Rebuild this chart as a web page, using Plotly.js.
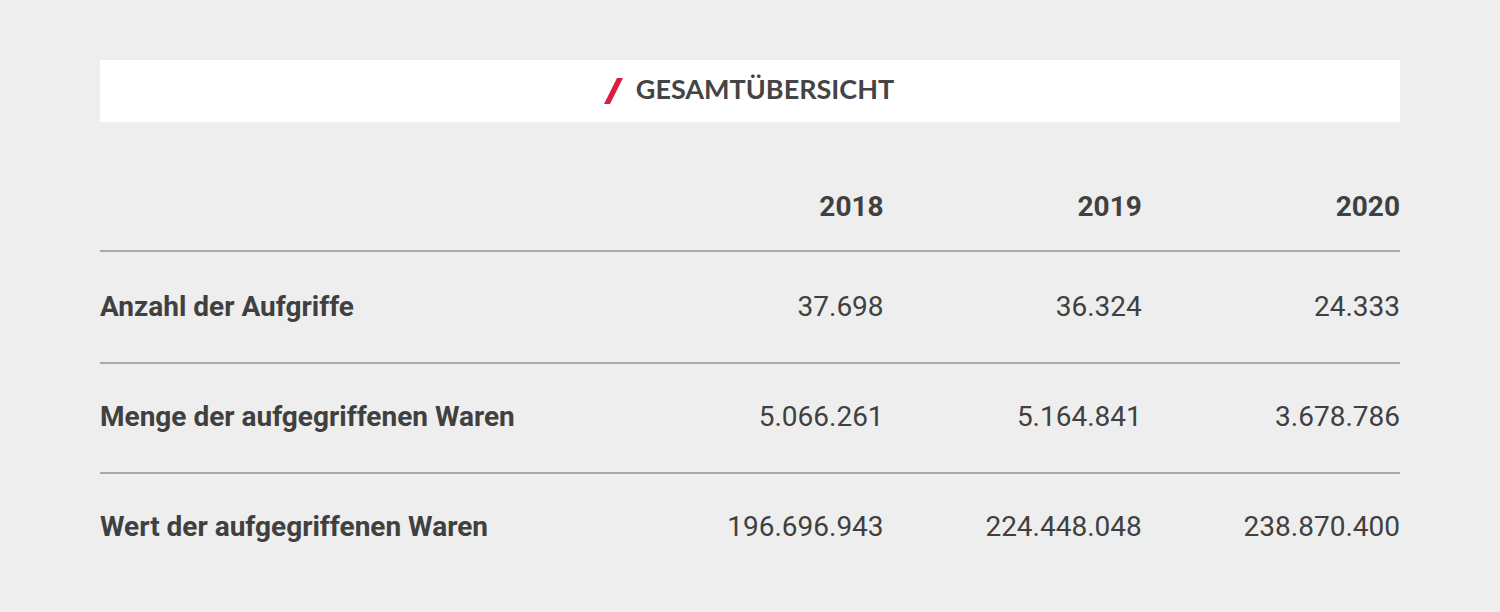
<!DOCTYPE html>
<html>
<head>
<meta charset="utf-8">
<script src="https://cdn.plot.ly/plotly-3.0.1.min.js"></script>
<style>
html,body{margin:0;padding:0;background:#eeeeee;}
#chart{width:1500px;height:612px;}
.scrollbar-kit{display:none;}
</style>
</head>
<body>
<div id="chart"></div>
<script>
// ---- data ----
const years = ["2018", "2019", "2020"];
const rowLabels = ["Anzahl der Aufgriffe", "Menge der aufgegriffenen Waren", "Wert der aufgegriffenen Waren"];
const values2018 = ["37.698", "5.066.261", "196.696.943"];
const values2019 = ["36.324", "5.164.841", "224.448.048"];
const values2020 = ["24.333", "3.678.786", "238.870.400"];
const chartTitle = "GESAMTÜBERSICHT";

// ---- layout helpers ----
const W = 1500, H = 612;
const px = v => v / W;
const py = v => 1 - v / H;
const textColor = "#404040";
const bg = "#eeeeee";

const table = {
  type: "table",
  domain: { x: [px(92), px(1408)], y: [0, py(187)] },
  columnwidth: [541, 258, 258, 258],
  header: {
    values: [""].concat(years),
    align: ["left", "right", "right", "right"],
    height: 100,
    fill: { color: "rgba(0,0,0,0)" },
    line: { width: 0, color: "rgba(0,0,0,0)" },
    font: { family: "Roboto", size: 28, color: textColor, weight: "bold" }
  },
  cells: {
    values: [rowLabels, values2018, values2019, values2020],
    align: ["left", "right", "right", "right"],
    height: 110,
    fill: { color: "rgba(0,0,0,0)" },
    line: { width: 0, color: "rgba(0,0,0,0)" },
    font: { family: "Roboto", size: 28, color: textColor,
            weight: ["bold", "normal", "normal", "normal"] }
  }
};

const ruleYs = [251, 363, 473];
const slashPath = "M " + px(604) + "," + py(104) + " L " + px(610) + "," + py(104) +
                  " L " + px(623) + "," + py(78) + " L " + px(617) + "," + py(78) + " Z";
const shapes = [
  { type: "rect", xref: "paper", yref: "paper", x0: px(100), x1: px(1400), y0: py(122), y1: py(60),
    fillcolor: "#ffffff", line: { width: 0 }, layer: "below" },
  { type: "path", xref: "paper", yref: "paper", path: slashPath,
    fillcolor: "#d91f3d", line: { width: 0 }, layer: "above" }
].concat(ruleYs.map(y => ({
  type: "line", xref: "paper", yref: "paper", x0: px(100), x1: px(1400), y0: py(y), y1: py(y),
  line: { color: "#aaaaaa", width: 2 }, layer: "above"
})));

const layout = {
  width: W, height: H,
  margin: { l: 0, r: 0, t: 0, b: 0 },
  paper_bgcolor: bg,
  plot_bgcolor: bg,
  title: {
    text: chartTitle,
    x: px(765), xanchor: "center", xref: "container",
    y: py(90), yanchor: "middle", yref: "container",
    font: { family: "Lato", size: 27, color: "#444444", weight: "bold" }
  },
  shapes: shapes,
  showlegend: false
};

Plotly.newPlot("chart", [table], layout, { displayModeBar: false, staticPlot: true });
</script>
</body>
</html>
